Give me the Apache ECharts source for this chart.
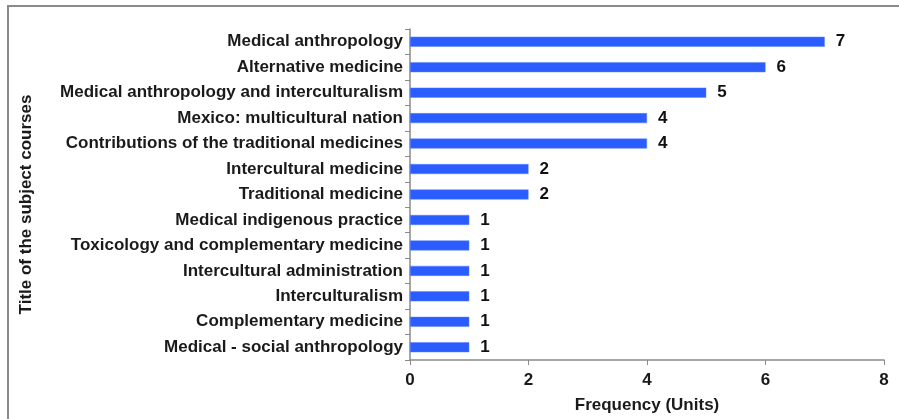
<!DOCTYPE html>
<html>
<head>
<meta charset="utf-8">
<script src="https://cdn.jsdelivr.net/npm/echarts@6/dist/echarts.min.js"></script>
<style>
  html, body { margin: 0; padding: 0; background: #fff; }
  #main { width: 899px; height: 419px; }
</style>
</head>
<body>
<div id="main"></div>
<script>
// courses, top to bottom
const courses = [
  'Medical anthropology',
  'Alternative medicine',
  'Medical anthropology and interculturalism',
  'Mexico: multicultural nation',
  'Contributions of the traditional medicines',
  'Intercultural medicine',
  'Traditional medicine',
  'Medical indigenous practice',
  'Toxicology and complementary medicine',
  'Intercultural administration',
  'Interculturalism',
  'Complementary medicine',
  'Medical - social anthropology'
]
const frequency = [7, 6, 5, 4, 4, 2, 2, 1, 1, 1, 1, 1, 1]

const font = 'Liberation Sans, Arial, sans-serif'
const chart = echarts.init(document.getElementById('main'))
chart.setOption({
  animation: false,
  backgroundColor: '#fff',
  graphic: [{
    type: 'rect',
    shape: { x: 8, y: 6, width: 910, height: 430 },
    style: { fill: 'none', stroke: '#8a8a8a', lineWidth: 2 },
    silent: true
  }],
  grid: { left: 410, right: 15, top: 29, bottom: 58, containLabel: false },
  xAxis: {
    type: 'value',
    min: 0,
    max: 8,
    interval: 2,
    name: 'Frequency (Units)',
    nameLocation: 'middle',
    nameGap: 37,
    nameTextStyle: { fontFamily: font, fontWeight: 'bold', fontSize: 17, color: '#1a1a1a' },
    axisLine: { show: true, lineStyle: { color: '#8a8a8a', width: 1.5 } },
    axisTick: { show: true, inside: false, length: 5, lineStyle: { color: '#8a8a8a' } },
    axisLabel: { fontFamily: font, fontWeight: 'bold', fontSize: 17, color: '#1a1a1a', margin: 12 },
    splitLine: { show: false }
  },
  yAxis: {
    type: 'category',
    data: courses,
    inverse: true,
    name: 'Title of the subject courses',
    nameLocation: 'middle',
    nameGap: 375,
    nameRotate: 90,
    nameTextStyle: { fontFamily: font, fontWeight: 'bold', fontSize: 17, color: '#1a1a1a', padding: [0, 20, 0, 0] },
    axisLine: { show: true, lineStyle: { color: '#8a8a8a', width: 1.5 } },
    axisTick: { show: true, length: 5, lineStyle: { color: '#8a8a8a' } },
    axisLabel: { fontFamily: font, fontWeight: 'bold', fontSize: 17, color: '#1a1a1a', margin: 7 }
  },
  series: [{
    type: 'bar',
    data: frequency,
    barWidth: 10,
    itemStyle: { color: '#2a5cff', borderColor: '#5a82ff', borderWidth: 0.5 },
    label: {
      show: true,
      position: 'right',
      distance: 11,
      fontFamily: font,
      fontWeight: 'bold',
      fontSize: 17,
      color: '#111'
    }
  }]
})
</script>
</body>
</html>
